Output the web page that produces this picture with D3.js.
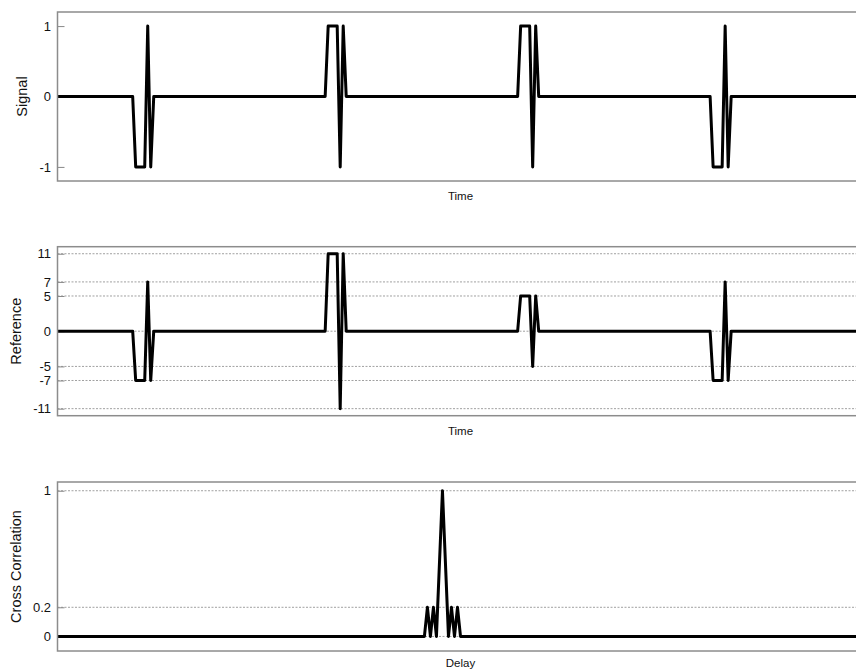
<!DOCTYPE html>
<html>
<head>
<meta charset="utf-8">
<script src="https://cdn.jsdelivr.net/npm/d3@7"></script>
<style>
  html, body { margin: 0; padding: 0; background: #fff; }
  svg { display: block; font-family: "Liberation Sans", Arial, sans-serif; }
</style>
</head>
<body>
<svg id="chart" width="856" height="670"></svg>
<script>
// Sample index breakpoints of the pulse train (straight segments between them)
const timeIndex      = [0, 25, 26, 29, 30, 31, 32, 89, 90, 93, 94, 95, 96, 153, 154, 157, 158, 159, 160, 217, 218, 221, 222, 223, 224, 268];
const signalValues   = [0,  0, -1, -1,  1, -1,  0,  0,  1,  1, -1,  1,  0,   0,   1,   1,  -1,   1,   0,   0,  -1,  -1,   1,  -1,   0,   0];
const referenceValues= [0,  0, -7, -7,  7, -7,  0,  0, 11, 11,-11, 11,  0,   0,   5,   5,  -5,   5,   0,   0,  -7,  -7,   7,  -7,   0,   0];

// Cross correlation around zero delay
const delayLags   = [-128, -6, -5, -4, -3, -2, 0, 2, 3, 4, 5, 6, 140];
const correlation = [0, 0, 0.2, 0, 0.2, 0, 1, 0, 0.2, 0, 0.2, 0, 0];

// Axis ticks
const signalTicks = [-1, 0, 1];
const referenceTicks = [-11, -7, -5, 0, 5, 7, 11];
const correlationTicks = [0, 0.2, 1];

const svg = d3.select("#chart");
const left = 57.5, right = 863.5;

const xTime = d3.scaleLinear().domain([0, 268]).range([left, right]);
const xDelay = d3.scaleLinear().domain([-128, 140]).range([left, right]);

const panels = [
  { top: 12,    bottom: 181,   domain: [-1.2, 1.2], ticks: signalTicks, grid: false,
    xs: timeIndex, ys: signalValues, x: xTime, yLabel: "Signal", xLabel: "Time", yLabelX: 27, xLabelY: 200 },
  { top: 246.7, bottom: 415.7, domain: [-12, 12], ticks: referenceTicks, grid: true,
    xs: timeIndex, ys: referenceValues, x: xTime, yLabel: "Reference", xLabel: "Time", yLabelX: 20.5, xLabelY: 435 },
  { top: 482,   bottom: 651,   domain: [-0.1, 1.06], ticks: correlationTicks, grid: true,
    xs: delayLags, ys: correlation, x: xDelay, yLabel: "Cross Correlation", xLabel: "Delay", yLabelX: 20.5, xLabelY: 666.5 }
];

panels.forEach((p, i) => {
  const y = d3.scaleLinear().domain(p.domain).range([p.bottom, p.top]);
  const g = svg.append("g");

  g.append("clipPath").attr("id", "clip" + i)
    .append("rect").attr("x", left).attr("y", p.top)
    .attr("width", right - left).attr("height", p.bottom - p.top);

  // dashed reference levels
  if (p.grid) {
    g.selectAll("line.grid").data(p.ticks).join("line")
      .attr("class", "grid")
      .attr("x1", left).attr("x2", right)
      .attr("y1", d => y(d)).attr("y2", d => y(d))
      .attr("stroke", "#a0a0a0").attr("stroke-width", 1)
      .attr("stroke-dasharray", "2,1.5");
  }

  // left axis with inward ticks, plain hyphen for negatives
  const axis = d3.axisLeft(y).tickValues(p.ticks).tickSize(-7).tickPadding(6.5)
    .tickFormat(d => String(d));
  const ag = g.append("g").attr("transform", `translate(${left},0)`).call(axis);
  ag.select(".domain").remove();
  ag.selectAll(".tick line").attr("stroke", "#888").attr("stroke-width", 1);
  ag.selectAll(".tick text").attr("font-size", 13).attr("fill", "#111")
    .attr("font-family", "Liberation Sans, Arial, sans-serif");

  // signal trace
  const line = d3.line().x((d, k) => p.x(p.xs[k])).y(d => y(d));
  g.append("path")
    .datum(p.ys)
    .attr("clip-path", `url(#clip${i})`)
    .attr("d", line)
    .attr("fill", "none")
    .attr("stroke", "#000")
    .attr("stroke-width", 3)
    .attr("stroke-linejoin", "round");

  // frame
  g.append("rect")
    .attr("x", left).attr("y", p.top)
    .attr("width", right - left).attr("height", p.bottom - p.top)
    .attr("fill", "none").attr("stroke", "#8c8c8c").attr("stroke-width", 1.5);

  // axis titles
  g.append("text")
    .attr("x", (left + right) / 2).attr("y", p.xLabelY)
    .attr("text-anchor", "middle").attr("font-size", 11.5).attr("fill", "#111")
    .text(p.xLabel);
  g.append("text")
    .attr("transform", `translate(${p.yLabelX},${(p.top + p.bottom) / 2}) rotate(-90)`)
    .attr("text-anchor", "middle").attr("font-size", 14.5).attr("fill", "#111")
    .text(p.yLabel);
});
</script>
</body>
</html>
